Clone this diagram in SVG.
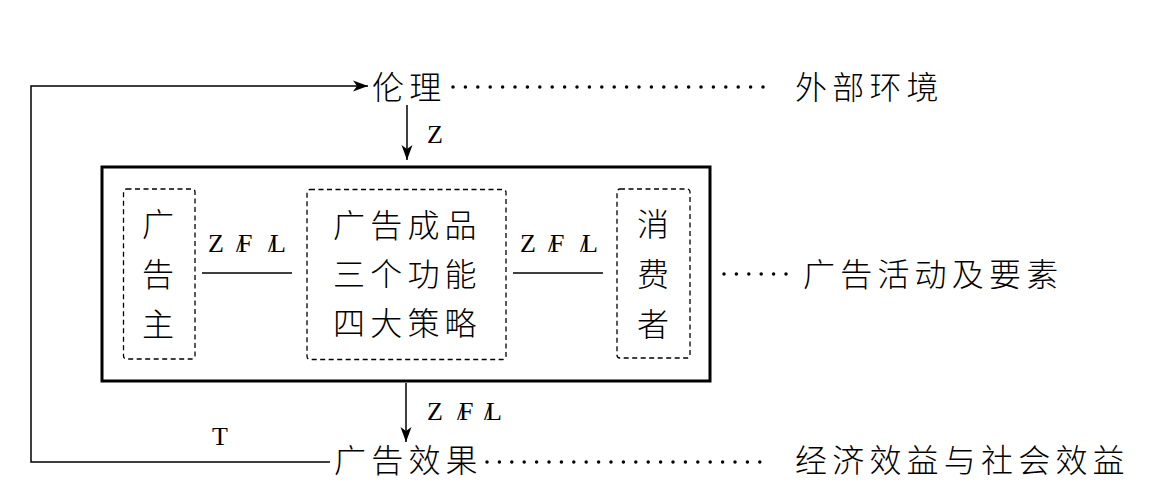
<svg xmlns="http://www.w3.org/2000/svg" width="1158" height="498" viewBox="0 0 1158 498">
<style>
.cjk{font-family:"Noto Sans CJK SC","Noto Sans CJK JP",sans-serif;font-size:32px;letter-spacing:5.2px;fill:#000;font-weight:300}
.v{letter-spacing:0}
.lat{font-family:"Liberation Serif","DejaVu Serif",serif;font-size:26px;fill:#000}
.ln{stroke:#000;stroke-width:1.5;fill:none}
.dash{stroke:#000;stroke-width:1.3;fill:none;stroke-dasharray:5 3.5}
.dots{stroke:#000;stroke-width:3.5;stroke-linecap:round;stroke-dasharray:0 12.4;fill:none}
</style>
<defs>
<marker id="ah" viewBox="-16 -6 17 12" refX="0" refY="0" markerWidth="17" markerHeight="12" markerUnits="userSpaceOnUse" orient="auto">
<path d="M0,0 L-15,-5.5 L-11,0 L-15,5.5 Z" fill="#000"/>
</marker>
</defs>
<rect width="1158" height="498" fill="#fff"/>
<g id="connectors">
<polyline class="ln" points="330,462 31,462 31,86 368,86" marker-end="url(#ah)"/>
<line class="ln" x1="407" y1="105" x2="407" y2="160" marker-end="url(#ah)"/>
<line class="ln" x1="406" y1="383" x2="406" y2="442" marker-end="url(#ah)"/>
<line class="ln" x1="202" y1="273" x2="292" y2="273"/>
<line class="ln" x1="513" y1="273" x2="603" y2="273"/>
<line class="dots" x1="453" y1="87" x2="770" y2="87"/>
<line class="dots" x1="724" y1="274" x2="790" y2="274"/>
<line class="dots" x1="487" y1="462" x2="770" y2="462"/>
<text class="lat" x="427" y="143">Z</text>
<text class="lat" x="212" y="445">T</text>
<text class="lat" y="252"><tspan x="208">Z</tspan><tspan x="238">F</tspan><tspan x="236">/</tspan><tspan x="270">L</tspan><tspan x="268">/</tspan></text>
<text class="lat" y="252"><tspan x="520">Z</tspan><tspan x="550">F</tspan><tspan x="548">/</tspan><tspan x="582">L</tspan><tspan x="580">/</tspan></text>
<text class="lat" y="420"><tspan x="427">Z</tspan><tspan x="459">F</tspan><tspan x="457">/</tspan><tspan x="486">L</tspan><tspan x="484">/</tspan></text>
</g>
<g id="lunli"><text class="cjk" x="372" y="99">伦理</text></g>
<g id="waibu"><text class="cjk" x="795" y="99">外部环境</text></g>
<g id="activity">
<rect x="102" y="167" width="608" height="214" fill="none" stroke="#000" stroke-width="3"/>
</g>
<g id="guanggaozhu">
<rect class="dash" x="123.5" y="189" width="71.5" height="170" rx="3"/>
<text class="cjk v" x="158" y="236" text-anchor="middle">广</text>
<text class="cjk v" x="158" y="286" text-anchor="middle">告</text>
<text class="cjk v" x="158" y="336" text-anchor="middle">主</text>
</g>
<g id="chengpin">
<rect class="dash" x="307" y="189.5" width="199" height="170" rx="3"/>
<text class="cjk" x="333" y="237">广告成品</text>
<text class="cjk" x="333" y="286">三个功能</text>
<text class="cjk" x="333" y="335">四大策略</text>
</g>
<g id="xiaofeizhe">
<rect class="dash" x="617" y="189" width="73" height="169" rx="3"/>
<text class="cjk v" x="653" y="236" text-anchor="middle">消</text>
<text class="cjk v" x="653" y="286" text-anchor="middle">费</text>
<text class="cjk v" x="653" y="336" text-anchor="middle">者</text>
</g>
<g id="yaosu"><text class="cjk" x="803" y="286">广告活动及要素</text></g>
<g id="xiaoguo"><text class="cjk" x="334" y="472">广告效果</text></g>
<g id="xiaoyi"><text class="cjk" x="795" y="472">经济效益与社会效益</text></g>
</svg>
